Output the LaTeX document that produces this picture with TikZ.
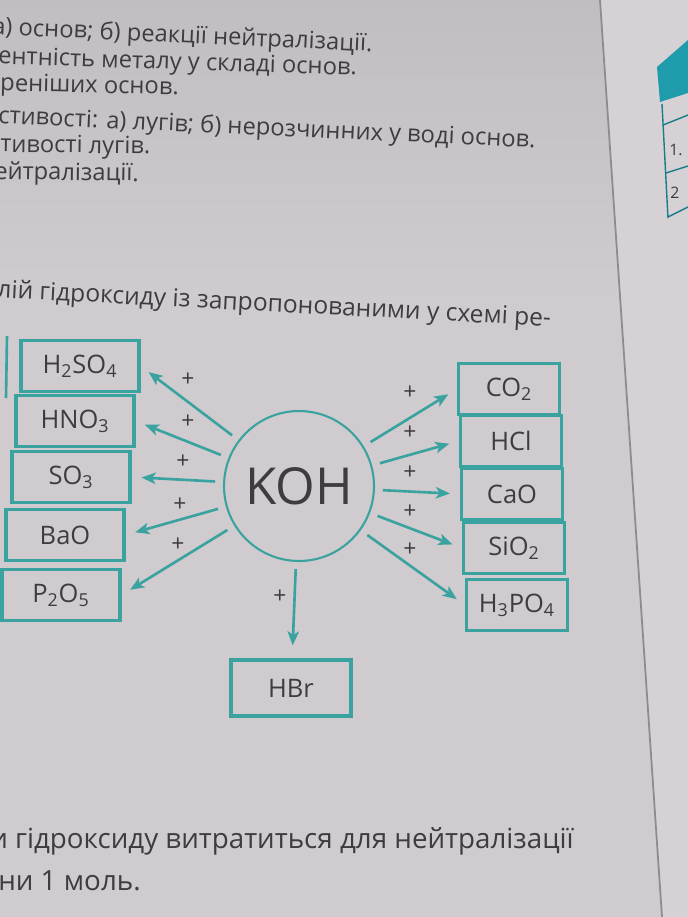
\documentclass[tikz,border=0pt]{standalone}
\usepackage{fontspec}
\setmainfont{Open Sans}
\usepackage{tikz}
\usetikzlibrary{arrows.meta}
\definecolor{paper}{RGB}{208,203,206}
\definecolor{paperdark}{RGB}{194,189,192}
\definecolor{paperright}{RGB}{214,209,212}
\definecolor{schemeteal}{RGB}{58,163,160}
\definecolor{pageteal}{RGB}{30,156,172}
\definecolor{ink}{RGB}{62,60,64}
\tikzstyle{chembox} = [rectangle, draw=schemeteal, line width=1.8pt, minimum height=1.02cm, text=ink, font=\fontsize{14.5}{16}\selectfont, inner sep=0pt]
\tikzstyle{leftbox} = [chembox, minimum width=2.36cm]
\tikzstyle{rightbox} = [chembox, minimum width=2.02cm]
\tikzstyle{reagarrow} = [-{Stealth[length=8pt,width=6.5pt,inset=2pt]}, schemeteal, line width=1.5pt, shorten <=0.16cm, shorten >=0.2cm]
\tikzstyle{plussign} = [text=ink, font=\fontsize{13}{15}\selectfont, inner sep=0pt]
\tikzstyle{pagetext} = [text=ink, anchor=west, inner sep=0pt]

\begin{document}
\begin{tikzpicture}[x=0.02cm, y=-0.02cm]
				\useasboundingbox (0,0) rectangle (688,917);
				\clip (0,0) rectangle (688,917);
				%%%%%%%%%%%%%%%%%%%%%%%%%%%%%%%%%%
				\shade[top color=paperdark, bottom color=paper, shading angle=0] (0,0) rectangle (688,300);
				\fill[paper] (0,300) rectangle (688,917);
				\fill[paperright] (600,0) -- (688,0) -- (688,917) -- (662,917) -- cycle;
				\draw[line width=1pt, black!45] (600,0) -- (662,917);
				\fill[pageteal] (657,67) -- (688,40) -- (688,93) -- (660,102) -- cycle;
				\draw[pageteal!80!black, line width=0.8pt] (662,104) -- (668,218);
				\draw[pageteal!80!black, line width=0.8pt] (663,125) -- (688,115);
				\draw[pageteal!80!black, line width=0.8pt] (666,173) -- (688,166);
				\draw[pageteal!80!black, line width=0.8pt] (668,217) -- (688,207);
				\node[pagetext, font=\fontsize{9}{10}\selectfont] at (669,150) {1.};
				\node[pagetext, font=\fontsize{9}{10}\selectfont] at (670,193) {2};
				%%%%%%%%%%%%%%%%%%%%%%%%%%%%%%%%%%
				\node[pagetext, rotate=-2.6, font=\fontsize{13.5}{15}\selectfont] (t1) at (-8,28) {а) основ; б) реакції нейтралізації.};
				\node[pagetext, rotate=-1.8, font=\fontsize{13.5}{15}\selectfont] (t2) at (-2,58) {ентність металу у складі основ.};
				\node[pagetext, rotate=-1.2, font=\fontsize{13.5}{15}\selectfont] (t3) at (0,85) {реніших основ.};
				\node[pagetext, rotate=-2.6, font=\fontsize{13.5}{15}\selectfont] (t4) at (-2,117) {стивості: а) лугів; б) нерозчинних у воді основ.};
				\node[pagetext, rotate=-0.8, font=\fontsize{13.5}{15}\selectfont] (t5) at (0,146) {тивості лугів.};
				\node[pagetext, rotate=-0.8, font=\fontsize{13.5}{15}\selectfont] (t6) at (-6,173) {ейтралізації.};
				\node[pagetext, rotate=-3, font=\fontsize{14}{16}\selectfont] (t7) at (-3,291) {лій гідроксиду із запропонованими у схемі ре-};
				\node[pagetext, font=\fontsize{15.8}{18}\selectfont] (t8) at (-10,841) {и гідроксиду витратиться для нейтралізації};
				\node[pagetext, font=\fontsize{15.8}{18}\selectfont] (t9) at (-2,881) {ни 1 моль.};
				\draw[schemeteal, line width=1.5pt] (7,336) -- (6,398);
				%%%%%%%%%%%%%%%%%%%%%%%%%%%%%%%%%%
				\node[circle, draw=schemeteal, line width=1.2pt, minimum size=3cm, text=ink, font=\fontsize{29}{32}\selectfont, inner sep=0pt] (koh) at (299,486) {KOH};
				\node[leftbox] (h2so4) at (80,366) {H\textsubscript{2}SO\textsubscript{4}};
				\node[leftbox] (hno3) at (75,421) {HNO\textsubscript{3}};
				\node[leftbox] (so3) at (71,477) {SO\textsubscript{3}};
				\node[leftbox] (bao) at (65,535) {BaO};
				\node[leftbox] (p2o5) at (61,595) {P\textsubscript{2}O\textsubscript{5}};
				\node[rightbox] (co2) at (509,389) {CO\textsubscript{2}};
				\node[rightbox] (hcl) at (511,441) {HCl};
				\node[rightbox] (cao) at (512,494) {CaO};
				\node[rightbox] (sio2) at (514,548) {SiO\textsubscript{2}};
				\node[rightbox] (h3po4) at (517,605) {H\textsubscript{3}PO\textsubscript{4}};
				\node[chembox, minimum width=2.4cm, minimum height=1.12cm] (hbr) at (291,688) {HBr};
				%%%%%%%%%%%%%%%%%%%%%%%%%%%%%%%%%%
				\draw[reagarrow] (koh) -- (h2so4.east);
				\draw[reagarrow] (koh) -- (hno3.east);
				\draw[reagarrow] (koh) -- (so3.east);
				\draw[reagarrow] (koh) -- (bao.east);
				\draw[reagarrow] (koh) -- (p2o5.east);
				\draw[reagarrow] (koh) -- (co2.west);
				\draw[reagarrow] (koh) -- (hcl.west);
				\draw[reagarrow] (koh) -- (cao.west);
				\draw[reagarrow] (koh) -- (sio2.west);
				\draw[reagarrow] (koh) -- (h3po4.west);
				\draw[reagarrow, shorten <=0.14cm, shorten >=0.26cm] (koh) -- (hbr);
				%%%%%%%%%%%%%%%%%%%%%%%%%%%%%%%%%%
				\foreach \x/\y [count=\i] in {188/380, 188/422, 183/462, 180/505, 178/545, 410/393, 410/433, 410/473, 410/512, 410/550, 280/597}
					\node[plussign] (plus\i) at (\x,\y) {+};
			\end{tikzpicture}
\end{document}
